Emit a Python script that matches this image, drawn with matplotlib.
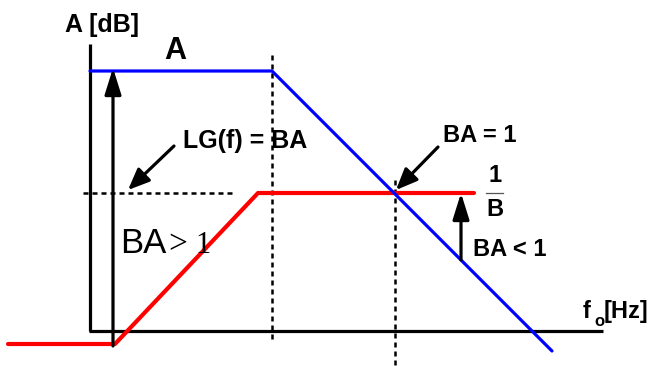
import matplotlib.pyplot as plt
from matplotlib.patches import ArrowStyle

plt.rcParams["font.family"] = ["Liberation Sans", "DejaVu Sans"]

# Bode-plot schematic, x ~ log frequency, y ~ dB (arbitrary units)
open_loop_x = [0.0, 18.2, 46.2]     # A(f): flat, then -20dB/dec
open_loop_y = [26.0, 26.0, -2.0]
inv_beta_x = [-8.2, 2.5, 16.8, 38.4]  # 1/B curve
inv_beta_y = [-1.3, -1.3, 13.8, 13.8]
inv_beta_level = 13.8
corner_f = 18.2
crossover_f = 30.5

fig = plt.figure(figsize=(6.57, 3.66), dpi=100)
ax = fig.add_axes([0, 0, 1, 1])
ax.set_xlim(-9.0, 56.7)
ax.set_ylim(-3.5, 33.1)
ax.axis("off")

# axes of the diagram
ax.plot([0, 0], [0, 28.7], color="black", lw=2.3, solid_capstyle="butt")
ax.plot([-0.1, 51.3], [0, 0], color="black", lw=2.3, solid_capstyle="butt")

# dotted guides
dot = dict(color="black", lw=1.8, dashes=(2.0, 1.6))
ax.plot([corner_f, corner_f], [27.6, -1.1], **dot)
ax.plot([crossover_f, crossover_f], [15.1, -3.5], **dot)
ax.plot([-0.7, 14.6], [inv_beta_level, inv_beta_level], **dot)

# curves
ax.plot(inv_beta_x, inv_beta_y, color="#ff0000", lw=3.0, solid_capstyle="round")
ax.plot(open_loop_x, open_loop_y, color="#0000ff", lw=2.3, solid_capstyle="round")

# arrows
big = ArrowStyle("-|>", head_length=1.6, head_width=0.5)
small = ArrowStyle("-|>", head_length=1.3, head_width=0.55)
arr = dict(color="black", lw=2.3, shrinkA=0, shrinkB=0, mutation_scale=10)
ax.annotate("", xy=(2.3, 26.3), xytext=(2.3, -1.5), arrowprops=dict(arrowstyle=big, **arr))
ax.annotate("", xy=(37.1, inv_beta_level), xytext=(37.1, 7.1),
            arrowprops=dict(arrowstyle=big, **arr))
ax.annotate("", xy=(3.8, 14.1), xytext=(8.4, 18.5), arrowprops=dict(arrowstyle=small, **arr))
ax.annotate("", xy=(30.6, 14.1), xytext=(34.8, 18.4), arrowprops=dict(arrowstyle=small, **arr))

# labels
ax.text(1.2, 30.6, "A [dB]", fontsize=18, fontweight="bold", ha="center", va="center")
ax.text(8.5, 28.0, "A", fontsize=22, fontweight="bold", ha="center", va="center")
ax.text(15.5, 19.0, "LG(f) = BA", fontsize=18, fontweight="bold", ha="center", va="center")
ax.text(39.0, 19.5, "BA = 1", fontsize=17, fontweight="bold", ha="center", va="center")
ax.text(40.5, 15.6, "1", fontsize=17, fontweight="bold", ha="center", va="center")
ax.plot([39.6, 41.3], [inv_beta_level, inv_beta_level], color="#555555", lw=0.9)
ax.text(40.5, 12.1, "B", fontsize=17, fontweight="bold", ha="center", va="center")
ax.text(42.0, 8.1, "BA < 1", fontsize=17, fontweight="bold", ha="center", va="center")

ax.text(3.0, 7.8, "BA", fontsize=25, ha="left", va="baseline")
ax.text(7.8, 7.8, ">", fontsize=24, family="Liberation Serif", ha="left", va="baseline")
ax.text(10.5, 7.8, "1", fontsize=22, family="Liberation Serif", ha="left", va="baseline")

ax.text(49.3, 1.3, "f", fontsize=17, fontweight="bold", ha="left", va="baseline")
ax.text(50.4, 0.5, "o", fontsize=12, fontweight="bold", ha="left", va="baseline")
ax.text(51.4, 1.3, "[Hz]", fontsize=17, fontweight="bold", ha="left", va="baseline")

fig.savefig("out.png", dpi=100)
